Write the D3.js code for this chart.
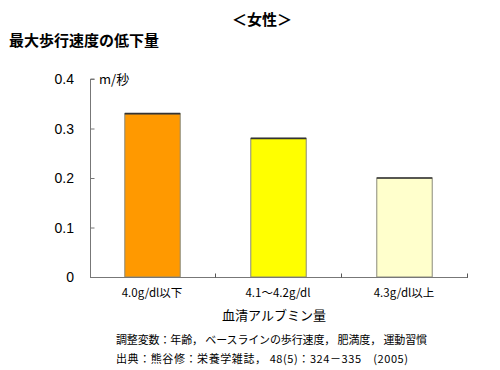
<!DOCTYPE html>
<html><head><meta charset="utf-8">
<script src="https://cdn.jsdelivr.net/npm/d3@7"></script>
<style>body{margin:0;background:#fff;}svg{display:block;}</style>
</head><body>
<script>
const categories = ["4.0g/dl以下", "4.1～4.2g/dl", "4.3g/dl以上"];
const values = [0.33, 0.28, 0.20];
const barColors = ["#FF9900", "#FFFF00", "#FFFFCC"];
const yTicks = [0, 0.1, 0.2, 0.3, 0.4];
const title = "＜女性＞";
const subtitle = "最大歩行速度の低下量";
const unitLabel = "m/秒";
const xTitle = "血清アルブミン量";
const notes = ["調整変数：年齢，  ベースラインの歩行速度，  肥満度，  運動習慣", "出典：熊谷修：栄養学雑誌，  48(5)：324－335　(2005)"];

const W = 500, H = 370;
const jp = "'Noto Sans CJK JP', 'Noto Sans', sans-serif";
const svg = d3.select("body").append("svg").attr("width", W).attr("height", H);

const x = d3.scaleBand().domain(categories).range([90, 468]).padding(0);
const y = d3.scaleLinear().domain([0, 0.4]).range([277, 79]);
const barFrac = 0.44;

svg.append("text").attr("x", 262).attr("y", 25).attr("text-anchor", "middle")
  .attr("font-family", jp).attr("font-weight", "bold").attr("font-size", 15).text(title);
svg.append("text").attr("x", 9).attr("y", 46)
  .attr("font-family", jp).attr("font-weight", "bold").attr("font-size", 15).text(subtitle);

// bars
const bw = x.bandwidth() * barFrac;
const g = svg.append("g");
g.selectAll("rect.bar").data(values).join("rect")
  .attr("x", (d, i) => x(categories[i]) + (x.bandwidth() - bw) / 2 - 0.5)
  .attr("y", d => y(d))
  .attr("width", bw)
  .attr("height", d => y(0) - y(d))
  .attr("fill", (d, i) => barColors[i])
  .attr("stroke", "#8a8a7a").attr("stroke-width", 1);
g.selectAll("line.top").data(values).join("line")
  .attr("x1", (d, i) => x(categories[i]) + (x.bandwidth() - bw) / 2 - 0.5)
  .attr("x2", (d, i) => x(categories[i]) + (x.bandwidth() + bw) / 2 - 0.5)
  .attr("y1", d => y(d)).attr("y2", d => y(d))
  .attr("stroke", "#333").attr("stroke-width", 1.6);

// y axis
const yAxis = svg.append("g").attr("transform", "translate(90.5,0)")
  .call(d3.axisRight(y).tickValues(yTicks).tickSize(4).tickFormat(""));
yAxis.select(".domain").attr("stroke", "#777").attr("d", `M4,${y(0.4)}H0V${y(0)}`);
yAxis.selectAll(".tick line").attr("stroke", "#777");
svg.selectAll("text.ytl").data(yTicks).join("text")
  .attr("x", 74).attr("y", d => y(d) + 5).attr("text-anchor", "end")
  .attr("font-family", "'Liberation Sans', Arial, sans-serif").attr("font-size", 14)
  .text(d => d === 0 ? "0" : d.toFixed(1));
svg.append("text").attr("x", 99).attr("y", 84)
  .attr("font-family", jp).attr("font-size", 13).text(unitLabel);

// x axis
const xAxis = svg.append("g").attr("transform", `translate(0,${y(0) + 0.5})`);
xAxis.append("line").attr("x1", 90).attr("x2", 468).attr("stroke", "#777");
const boundaries = categories.map(c => x(c) + x.bandwidth());
xAxis.selectAll("line.t").data(boundaries).join("line")
  .attr("x1", d => d - 0.5).attr("x2", d => d - 0.5).attr("y1", 0).attr("y2", -4).attr("stroke", "#555");
svg.selectAll("text.xtl").data(categories).join("text")
  .attr("x", d => x(d) + x.bandwidth() / 2 - 1).attr("y", 297).attr("text-anchor", "middle")
  .attr("font-family", jp).attr("font-size", 11.5).text(d => d);

svg.append("text").attr("x", 274).attr("y", 320).attr("text-anchor", "middle")
  .attr("font-family", jp).attr("font-size", 13).text(xTitle);
svg.selectAll("text.note").data(notes).join("text")
  .attr("x", 116).attr("y", (d, i) => 344 + i * 19)
  .attr("font-family", jp).attr("font-size", 11)
  .attr("textLength", (d, i) => i === 0 ? 311 : 292).attr("lengthAdjust", "spacing")
  .text(d => d);
</script>
</body></html>
